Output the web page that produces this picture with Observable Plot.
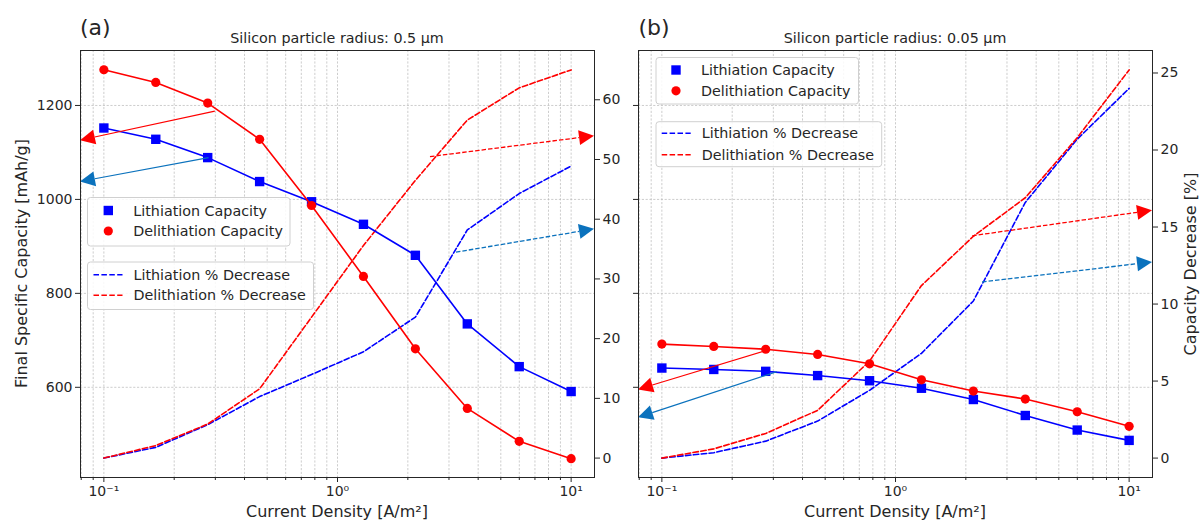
<!DOCTYPE html>
<html>
<head>
<meta charset="utf-8">
<script src="https://cdn.jsdelivr.net/npm/d3@7"></script>
<script src="https://cdn.jsdelivr.net/npm/@observablehq/plot@0.6"></script>
<style>
  body { margin: 0; background: #fff; }
  #fig { position: relative; width: 1201px; height: 523px; overflow: hidden; background: #fff; }
  #fig > svg { position: absolute; top: 0; }
  #overlay { left: 0; pointer-events: none; }
</style>
</head>
<body>
<div id="fig"></div>
<script>
// Current densities swept (A/m²), ten log-spaced values from 0.1 to 10
const currentDensity = [0.1, 0.1668, 0.2783, 0.4642, 0.7743, 1.2915, 2.1544, 3.5938, 5.9948, 10];

// Particle radius 0.5 µm
const lithCapA   = [1152, 1128, 1089, 1038, 995, 947, 881, 735, 644, 591];
const delithCapA = [1276, 1249, 1205, 1128, 987, 836, 682, 555, 485, 448];
const lithDecA   = [0, 1.8, 5.6, 10.3, 14.0, 17.8, 23.6, 38.2, 44.3, 48.9];
const delithDecA = [0, 2.1, 5.7, 11.6, 23.6, 35.6, 46.5, 56.6, 62.0, 65.0];

// Particle radius 0.05 µm
const lithCapB   = [641, 638, 634, 625, 614, 598, 574, 540, 509, 487];
const delithCapB = [692, 687, 681, 670, 650, 616, 592, 575, 548, 517];
const lithDecB   = [0, 0.35, 1.1, 2.4, 4.4, 6.8, 10.2, 16.6, 20.7, 24.0];
const delithDecB = [0, 0.6, 1.6, 3.1, 6.3, 11.2, 14.4, 16.9, 20.8, 25.2];

// Axis ranges: capacity axis is shared, % decrease axis differs per panel
const capDomain  = [408, 1317];
const decDomainA = [-3.25, 68.25];
const decDomainB = [-1.26, 26.46];
const xDomain    = [10 ** -1.1, 10 ** 1.1];

// Tick values
const capTicks   = [600, 800, 1000, 1200];
const decTicksA  = [0, 10, 20, 30, 40, 50, 60];
const decTicksB  = [0, 5, 10, 15, 20, 25];
const xMajor     = [0.1, 1, 10];
const xMajorText = ["10\u207B\u00B9", "10\u2070", "10\u00B9"];
const xMinor     = [0.08, 0.09, 0.2, 0.3, 0.4, 0.5, 0.6, 0.7, 0.8, 0.9, 2, 3, 4, 5, 6, 7, 8, 9];

// Arrow annotations pointing to the axis each curve belongs to: [x, value] tail → head
const capArrowTailA = [[0.30, 1187], [0.282, 1088]];
const capArrowHeadA = [[xDomain[0], 1125], [xDomain[0], 1037]];
const decArrowTailA = [[2.5, 50.4], [3.23, 34.4]];
const decArrowHeadA = [[xDomain[1], 53.9], [xDomain[1], 38.3]];
const capArrowTailB = [[0.292, 680], [0.312, 632]];
const capArrowHeadB = [[xDomain[0], 594.5], [xDomain[0], 535]];
const decArrowTailB = [[2.14, 14.4], [2.36, 11.4]];
const decArrowHeadB = [[xDomain[1], 16.06], [xDomain[1], 12.7]];

const RED = "#ff0000", BLUE = "#0000ff", ARROW_BLUE = "#0b72bd";
const FONT = "DejaVu Sans, sans-serif";
const DASH = "5.5,2.4";

// map a % decrease value onto the capacity scale so both share one y scale
const onCapScale = dom => v => capDomain[0] + (v - dom[0]) / (dom[1] - dom[0]) * (capDomain[1] - capDomain[0]);
const fromCapScale = dom => c => dom[0] + (c - capDomain[0]) / (capDomain[1] - capDomain[0]) * (dom[1] - dom[0]);

// arrow with a filled triangular head, positioned through the plot's scales
function arrows(tails, heads, colors, yMap, dashed) {
  return (index, scales) => {
    const g = d3.create("svg:g");
    tails.forEach(([tx, ty], i) => {
      const [hx, hy] = heads[i];
      const x1 = scales.x(tx), y1 = scales.y(yMap(ty));
      const x2 = scales.x(hx), y2 = scales.y(yMap(hy));
      const a = Math.atan2(y2 - y1, x2 - x1);
      const L = 15, W = 7.5;
      const bx = x2 - L * Math.cos(a), by = y2 - L * Math.sin(a);
      g.append("line")
        .attr("x1", x1).attr("y1", y1).attr("x2", bx).attr("y2", by)
        .attr("stroke", colors[i]).attr("stroke-width", dashed ? 1.3 : 1.2)
        .attr("stroke-dasharray", dashed ? "4.5,2" : null);
      g.append("path")
        .attr("d", `M${x2},${y2}L${bx + W * Math.sin(a)},${by - W * Math.cos(a)}L${bx - W * Math.sin(a)},${by + W * Math.cos(a)}Z`)
        .attr("fill", colors[i]);
    });
    return g.node();
  };
}

function panel(opts) {
  const {lithCap, delithCap, lithDec, delithDec, decDomain, decTicks,
         capTail, capHead, decTail, decHead, showCapLabels, width, marginLeft, marginRight} = opts;
  const toCap = onCapScale(decDomain), fromCap = fromCapScale(decDomain);
  const rows = currentDensity.map((x, i) => ({
    x, lithCap: lithCap[i], delithCap: delithCap[i],
    lithDec: toCap(lithDec[i]), delithDec: toCap(delithDec[i])
  }));
  const grid = {stroke: "#b8b8b8", strokeOpacity: 1, strokeWidth: 0.7, strokeDasharray: "2.2,1.6"};
  return Plot.plot({
    width, height: 523,
    marginLeft, marginRight, marginTop: 50, marginBottom: 46,
    style: {background: "transparent", fontFamily: FONT, fontSize: "14px", color: "#262626", overflow: "visible"},
    x: {type: "log", domain: xDomain},
    y: {domain: capDomain},
    marks: [
      Plot.ruleX([...xMajor, ...xMinor], {x: d => d, ...grid}),
      Plot.ruleY(capTicks, {y: d => d, ...grid}),
      Plot.line(rows, {x: "x", y: "lithDec", stroke: BLUE, strokeWidth: 1.6, strokeDasharray: DASH}),
      Plot.line(rows, {x: "x", y: "delithDec", stroke: RED, strokeWidth: 1.6, strokeDasharray: DASH}),
      Plot.line(rows, {x: "x", y: "lithCap", stroke: BLUE, strokeWidth: 1.6}),
      Plot.dot(rows, {x: "x", y: "lithCap", symbol: "square", r: 5.3, fill: BLUE}),
      Plot.line(rows, {x: "x", y: "delithCap", stroke: RED, strokeWidth: 1.6}),
      Plot.dot(rows, {x: "x", y: "delithCap", symbol: "circle", r: 4.6, fill: RED}),
      arrows(capTail, capHead, [RED, ARROW_BLUE], v => v, false),
      arrows(decTail, decHead, [RED, ARROW_BLUE], toCap, true),
      Plot.frame({stroke: "#262626", strokeWidth: 1}),
      Plot.axisX({ticks: xMajor, tickSize: 5, tickPadding: 4, label: null,
                  tickFormat: d => xMajorText[xMajor.indexOf(d)], fontSize: 14}),
      Plot.axisX({ticks: xMinor, tickSize: 3, label: null, tickFormat: () => ""}),
      Plot.axisY({ticks: capTicks, tickSize: 5, tickPadding: 3, label: null, fontSize: 14,
                  tickFormat: showCapLabels ? (d => String(d)) : (() => "")}),
      Plot.axisY({anchor: "right", ticks: decTicks.map(toCap), tickSize: 5, tickPadding: 3, label: null, fontSize: 14,
                  tickFormat: c => String(Math.round(fromCap(c)))})
    ]
  });
}

const fig = document.getElementById("fig");

const plotA = panel({
  lithCap: lithCapA, delithCap: delithCapA, lithDec: lithDecA, delithDec: delithDecA,
  decDomain: decDomainA, decTicks: decTicksA,
  capTail: capArrowTailA, capHead: capArrowHeadA, decTail: decArrowTailA, decHead: decArrowHeadA,
  showCapLabels: true, width: 630, marginLeft: 80, marginRight: 36
});
plotA.style.left = "0px";
fig.appendChild(plotA);

const plotB = panel({
  lithCap: lithCapB, delithCap: delithCapB, lithDec: lithDecB, delithDec: delithDecB,
  decDomain: decDomainB, decTicks: decTicksB,
  capTail: capArrowTailB, capHead: capArrowHeadB, decTail: decArrowTailB, decHead: decArrowHeadB,
  showCapLabels: false, width: 601, marginLeft: 38, marginRight: 49
});
plotB.style.left = "600px";
fig.appendChild(plotB);

// Titles, axis labels and legends
const ov = d3.select(fig).append("svg").attr("id", "overlay")
  .attr("width", 1201).attr("height", 523)
  .style("font-family", FONT).style("fill", "#262626");

function text(x, y, s, size, anchor = "middle", rotate = 0) {
  ov.append("text").attr("transform", `translate(${x},${y}) rotate(${rotate})`)
    .attr("text-anchor", anchor).attr("font-size", size).attr("fill", "#262626").text(s);
}
text(80, 35, "(a)", 22, "start");
text(638.5, 35, "(b)", 22, "start");
text(337, 43, "Silicon particle radius: 0.5 \u00B5m", 14.3);
text(895, 43, "Silicon particle radius: 0.05 \u00B5m", 14.3);
text(337, 517, "Current Density [A/m\u00B2]", 16);
text(895, 517, "Current Density [A/m\u00B2]", 16);
text(27, 263.5, "Final Specific Capacity [mAh/g]", 16, "middle", -90);
text(1196, 264, "Capacity Decrease [%]", 16, "middle", -90);

const capLegend = [["Lithiation Capacity", BLUE, "square"], ["Delithiation Capacity", RED, "circle"]];
const decLegend = [["Lithiation % Decrease", BLUE], ["Delithiation % Decrease", RED]];

function legendBox(x, y, w, h) {
  ov.append("rect").attr("x", x).attr("y", y).attr("width", w).attr("height", h).attr("rx", 3)
    .attr("fill", "white").attr("fill-opacity", 0.85).attr("stroke", "#d0d0d0").attr("stroke-width", 1);
}
function markerLegend(x, y, w, h, mx, my, dy) {
  legendBox(x, y, w, h);
  capLegend.forEach(([label, color, shape], i) => {
    const cy = my + i * dy;
    if (shape === "square") ov.append("rect").attr("x", mx - 4.7).attr("y", cy - 4.7).attr("width", 9.4).attr("height", 9.4).attr("fill", color);
    else ov.append("circle").attr("cx", mx).attr("cy", cy).attr("r", 4.6).attr("fill", color);
    text(mx + 25, cy + 5, label, 14.3, "start");
  });
}
function lineLegend(x, y, w, h, lx, ly, dy) {
  legendBox(x, y, w, h);
  decLegend.forEach(([label, color], i) => {
    const cy = ly + i * dy;
    ov.append("line").attr("x1", lx).attr("x2", lx + 29).attr("y1", cy).attr("y2", cy)
      .attr("stroke", color).attr("stroke-width", 1.6).attr("stroke-dasharray", DASH);
    text(lx + 40, cy + 5, label, 14.3, "start");
  });
}
markerLegend(87.5, 197.5, 202.5, 48.5, 108.3, 210.5, 20.5);
lineLegend(87.5, 262, 226, 47.5, 93.5, 274.7, 20.6);
markerLegend(656, 57.5, 202.5, 46.5, 676, 70, 20.8);
lineLegend(656, 121.7, 225.7, 45, 661.7, 133.3, 21.4);
</script>
</body>
</html>
